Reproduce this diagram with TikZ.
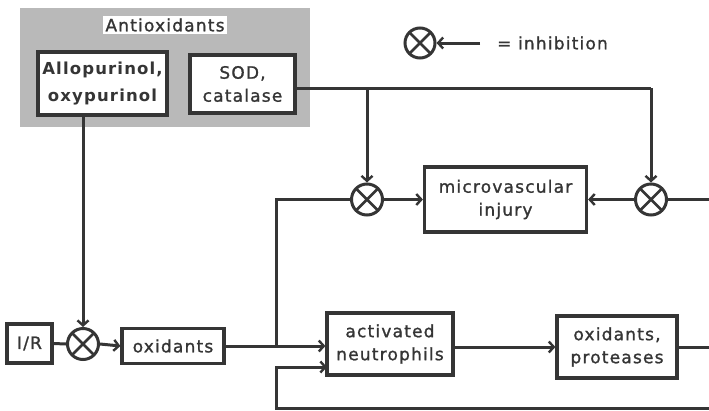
\documentclass[tikz,border=0pt]{standalone}
\usepackage{fontspec}
\setmainfont{DejaVu Sans}[LetterSpace=7, FakeBold=1.2, BoldFeatures={FakeBold=0}]
\usetikzlibrary{arrows.meta,patterns}
\definecolor{ink}{HTML}{353535}
\tikzset{
  box/.style={draw=ink, line width=3.2pt, fill=white, align=center, inner sep=0pt,
    text=ink, font=\fontsize{17}{23}\selectfont},
  inh/.style={circle, draw=ink, line width=3pt, fill=white, inner sep=0pt, minimum size=31pt,
    path picture={\draw[ink, line width=2.6pt]
      (path picture bounding box.north west) -- (path picture bounding box.south east)
      (path picture bounding box.north east) -- (path picture bounding box.south west);}},
  conn/.style={draw=ink, line width=3pt},
  arr/.style={conn, -{Straight Barb[length=5pt,width=11pt,line width=2.4pt]}},
  lbl/.style={text=ink, inner sep=1pt, font=\fontsize{17}{23}\selectfont}
}
\begin{document}
\begin{tikzpicture}[x=1pt,y=1pt]
\useasboundingbox (0,0) rectangle (709,-410);
\fill[white] (0,0) rectangle (709,-410);
% antioxidants group
\node[fill=gray!55, minimum width=290pt, minimum height=119pt, inner sep=0pt] (anti) at (165,-67.5) {};
\node[lbl, fill=white, inner sep=2pt] (antilbl) at (165,-25) {Antioxidants};
\node[box, minimum width=129pt, minimum height=63pt, font=\fontsize{16.5}{27}\selectfont\bfseries] (allo) at (102.5,-83.5) {Allopurinol,\\oxypurinol};
\node[box, minimum width=105pt, minimum height=58pt] (sod) at (242.5,-84) {SOD,\\catalase};
% legend
\node[inh, minimum size=30pt] (lc) at (420,-43) {};
\coordinate (lend) at (480,-43);
\node[lbl, anchor=west] (ltxt) at (496,-43) {= inhibition};
% main nodes
\node[box, minimum width=45pt, minimum height=39pt] (ir) at (29.5,-343.5) {I/R};
\node[inh] (c0) at (83,-344) {};
\node[box, minimum width=102pt, minimum height=35pt] (oxi) at (173,-346) {oxidants};
\node[box, minimum width=126pt, minimum height=62pt] (neut) at (390,-344) {activated\\neutrophils};
\node[box, minimum width=120pt, minimum height=62pt] (prot) at (617,-347) {oxidants,\\proteases};
\node[box, minimum width=162pt, minimum height=65pt] (micro) at (505.5,-199.5) {microvascular\\injury};
\node[inh] (c1) at (367,-199.5) {};
\node[inh] (c2) at (651,-199.5) {};
% coordinates
\coordinate (j1) at (276,-346);
\coordinate (sodr) at (295,-88);
\coordinate (top) at (651,-88);
\coordinate (re1) at (709,-199.5);
\coordinate (re2) at (709,-347);
\coordinate (fb) at (709,-408);
\coordinate (fbc) at (276,-408);
\coordinate (n2) at (327,-367);
% connectors
\draw[arr] (lend) -- (lc.east);
\draw[arr] (c0 |- allo.south) -- (c0.north);
\draw[conn] (ir.east) -- (c0.west);
\draw[arr] (c0.east) -- (oxi.west);
\draw[arr] (oxi.east) -- (oxi.east -| neut.west);
\draw[conn] (j1) |- (c1.west);
\draw[arr] (c1.east) -- (micro.west);
\draw[arr] (c2.west) -- (micro.east);
\draw[conn] (c2.east) -- (re1);
\draw[conn] (sodr) -- (top);
\draw[arr] (top) -- (c2.north);
\draw[arr] (c1 |- sodr) -- (c1.north);
\draw[arr] (prot.west -| neut.east) -- (prot.west);
\draw[conn] (prot.east) -- (re2);
\draw[arr] (fb) -- (fbc) |- (n2);
\end{tikzpicture}
\end{document}
